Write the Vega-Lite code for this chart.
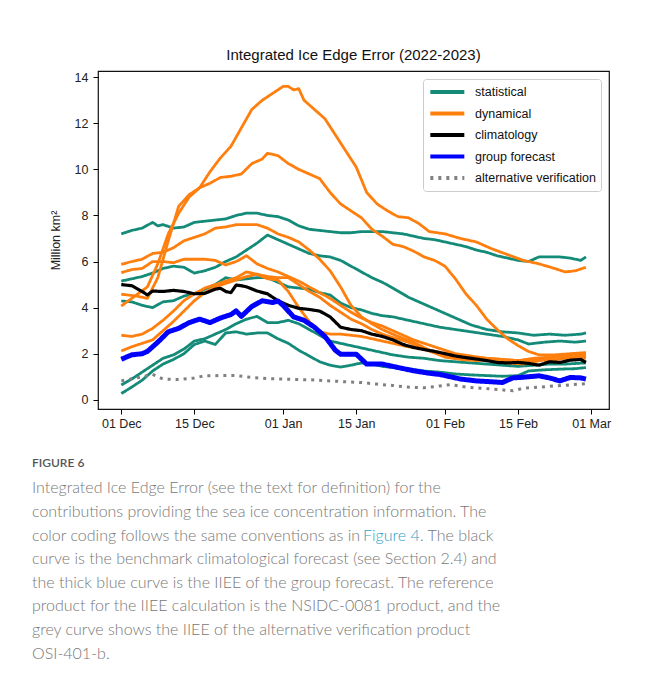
{
  "$schema": "https://vega.github.io/schema/vega-lite/v6.json",
  "background": "white",
  "padding": {"left": 32, "top": 47, "right": 0, "bottom": 0},
  "spacing": 22,
  "config": {
    "view": {"stroke": null},
    "axis": {
      "domain": false, "grid": false, "ticks": true, "tickColor": "#000", "tickSize": 5, "tickWidth": 1,
      "labelFont": "Liberation Sans", "labelFontSize": 12.5, "labelColor": "#222",
      "titleFont": "Liberation Sans", "titleFontSize": 12.5, "titleFontWeight": "normal", "titleColor": "#222"
    }
  },
  "vconcat": [
    {
      "width": 511,
      "height": 338,
      "view": {"stroke": "#111", "strokeWidth": 1.2},
      "title": {"text": "Integrated Ice Edge Error (2022-2023)", "font": "Liberation Sans", "fontSize": 15, "fontWeight": "normal", "color": "#111", "offset": -7, "baseline": "bottom"},
      "data": {"values": [
        {"s":"t1","g":"statistical","d":"2022-12-01","v":7.2},{"s":"t1","g":"statistical","d":"2022-12-03","v":7.35},{"s":"t1","g":"statistical","d":"2022-12-05","v":7.45},{"s":"t1","g":"statistical","d":"2022-12-07","v":7.7},{"s":"t1","g":"statistical","d":"2022-12-08","v":7.55},{"s":"t1","g":"statistical","d":"2022-12-09","v":7.6},{"s":"t1","g":"statistical","d":"2022-12-11","v":7.45},{"s":"t1","g":"statistical","d":"2022-12-13","v":7.5},{"s":"t1","g":"statistical","d":"2022-12-15","v":7.7},{"s":"t1","g":"statistical","d":"2022-12-17","v":7.75},{"s":"t1","g":"statistical","d":"2022-12-19","v":7.8},{"s":"t1","g":"statistical","d":"2022-12-21","v":7.85},{"s":"t1","g":"statistical","d":"2022-12-23","v":8.0},{"s":"t1","g":"statistical","d":"2022-12-25","v":8.1},{"s":"t1","g":"statistical","d":"2022-12-27","v":8.1},{"s":"t1","g":"statistical","d":"2022-12-29","v":8.0},{"s":"t1","g":"statistical","d":"2022-12-31","v":7.95},{"s":"t1","g":"statistical","d":"2023-01-02","v":7.8},{"s":"t1","g":"statistical","d":"2023-01-04","v":7.55},{"s":"t1","g":"statistical","d":"2023-01-06","v":7.4},{"s":"t1","g":"statistical","d":"2023-01-08","v":7.35},{"s":"t1","g":"statistical","d":"2023-01-10","v":7.3},{"s":"t1","g":"statistical","d":"2023-01-12","v":7.25},{"s":"t1","g":"statistical","d":"2023-01-14","v":7.25},{"s":"t1","g":"statistical","d":"2023-01-16","v":7.3},{"s":"t1","g":"statistical","d":"2023-01-18","v":7.3},{"s":"t1","g":"statistical","d":"2023-01-20","v":7.3},{"s":"t1","g":"statistical","d":"2023-01-22","v":7.25},{"s":"t1","g":"statistical","d":"2023-01-24","v":7.2},{"s":"t1","g":"statistical","d":"2023-01-26","v":7.1},{"s":"t1","g":"statistical","d":"2023-01-28","v":7.0},{"s":"t1","g":"statistical","d":"2023-01-30","v":6.95},{"s":"t1","g":"statistical","d":"2023-02-01","v":6.85},{"s":"t1","g":"statistical","d":"2023-02-03","v":6.75},{"s":"t1","g":"statistical","d":"2023-02-05","v":6.65},{"s":"t1","g":"statistical","d":"2023-02-07","v":6.5},{"s":"t1","g":"statistical","d":"2023-02-09","v":6.4},{"s":"t1","g":"statistical","d":"2023-02-11","v":6.25},{"s":"t1","g":"statistical","d":"2023-02-13","v":6.15},{"s":"t1","g":"statistical","d":"2023-02-15","v":6.05},{"s":"t1","g":"statistical","d":"2023-02-17","v":6.0},{"s":"t1","g":"statistical","d":"2023-02-19","v":6.2},{"s":"t1","g":"statistical","d":"2023-02-21","v":6.2},{"s":"t1","g":"statistical","d":"2023-02-23","v":6.2},{"s":"t1","g":"statistical","d":"2023-02-25","v":6.15},{"s":"t1","g":"statistical","d":"2023-02-27","v":6.05},{"s":"t1","g":"statistical","d":"2023-02-28","v":6.2},

        {"s":"t2","g":"statistical","d":"2022-12-01","v":5.15},{"s":"t2","g":"statistical","d":"2022-12-03","v":5.25},{"s":"t2","g":"statistical","d":"2022-12-05","v":5.35},{"s":"t2","g":"statistical","d":"2022-12-07","v":5.5},{"s":"t2","g":"statistical","d":"2022-12-09","v":5.7},{"s":"t2","g":"statistical","d":"2022-12-11","v":5.8},{"s":"t2","g":"statistical","d":"2022-12-13","v":5.75},{"s":"t2","g":"statistical","d":"2022-12-15","v":5.5},{"s":"t2","g":"statistical","d":"2022-12-17","v":5.6},{"s":"t2","g":"statistical","d":"2022-12-19","v":5.75},{"s":"t2","g":"statistical","d":"2022-12-21","v":6.0},{"s":"t2","g":"statistical","d":"2022-12-23","v":6.2},{"s":"t2","g":"statistical","d":"2022-12-25","v":6.5},{"s":"t2","g":"statistical","d":"2022-12-27","v":6.8},{"s":"t2","g":"statistical","d":"2022-12-29","v":7.15},{"s":"t2","g":"statistical","d":"2022-12-31","v":6.95},{"s":"t2","g":"statistical","d":"2023-01-02","v":6.75},{"s":"t2","g":"statistical","d":"2023-01-04","v":6.55},{"s":"t2","g":"statistical","d":"2023-01-06","v":6.35},{"s":"t2","g":"statistical","d":"2023-01-08","v":6.25},{"s":"t2","g":"statistical","d":"2023-01-10","v":6.2},{"s":"t2","g":"statistical","d":"2023-01-12","v":6.05},{"s":"t2","g":"statistical","d":"2023-01-14","v":5.8},{"s":"t2","g":"statistical","d":"2023-01-16","v":5.55},{"s":"t2","g":"statistical","d":"2023-01-18","v":5.3},{"s":"t2","g":"statistical","d":"2023-01-20","v":5.1},{"s":"t2","g":"statistical","d":"2023-01-22","v":4.85},{"s":"t2","g":"statistical","d":"2023-01-25","v":4.45},{"s":"t2","g":"statistical","d":"2023-01-28","v":4.15},{"s":"t2","g":"statistical","d":"2023-01-31","v":3.85},{"s":"t2","g":"statistical","d":"2023-02-03","v":3.55},{"s":"t2","g":"statistical","d":"2023-02-06","v":3.25},{"s":"t2","g":"statistical","d":"2023-02-09","v":3.05},{"s":"t2","g":"statistical","d":"2023-02-12","v":2.95},{"s":"t2","g":"statistical","d":"2023-02-15","v":2.9},{"s":"t2","g":"statistical","d":"2023-02-18","v":2.8},{"s":"t2","g":"statistical","d":"2023-02-21","v":2.85},{"s":"t2","g":"statistical","d":"2023-02-24","v":2.8},{"s":"t2","g":"statistical","d":"2023-02-27","v":2.85},{"s":"t2","g":"statistical","d":"2023-02-28","v":2.9},

        {"s":"t3","g":"statistical","d":"2022-12-01","v":4.29},{"s":"t3","g":"statistical","d":"2022-12-03","v":4.25},{"s":"t3","g":"statistical","d":"2022-12-05","v":4.1},{"s":"t3","g":"statistical","d":"2022-12-07","v":4.0},{"s":"t3","g":"statistical","d":"2022-12-09","v":4.25},{"s":"t3","g":"statistical","d":"2022-12-11","v":4.3},{"s":"t3","g":"statistical","d":"2022-12-13","v":4.5},{"s":"t3","g":"statistical","d":"2022-12-15","v":4.6},{"s":"t3","g":"statistical","d":"2022-12-17","v":4.8},{"s":"t3","g":"statistical","d":"2022-12-19","v":5.0},{"s":"t3","g":"statistical","d":"2022-12-21","v":5.3},{"s":"t3","g":"statistical","d":"2022-12-23","v":5.2},{"s":"t3","g":"statistical","d":"2022-12-25","v":5.25},{"s":"t3","g":"statistical","d":"2022-12-27","v":5.3},{"s":"t3","g":"statistical","d":"2022-12-29","v":5.3},{"s":"t3","g":"statistical","d":"2022-12-31","v":5.1},{"s":"t3","g":"statistical","d":"2023-01-02","v":4.9},{"s":"t3","g":"statistical","d":"2023-01-04","v":4.85},{"s":"t3","g":"statistical","d":"2023-01-06","v":4.8},{"s":"t3","g":"statistical","d":"2023-01-08","v":4.65},{"s":"t3","g":"statistical","d":"2023-01-10","v":4.55},{"s":"t3","g":"statistical","d":"2023-01-12","v":4.2},{"s":"t3","g":"statistical","d":"2023-01-14","v":4.0},{"s":"t3","g":"statistical","d":"2023-01-16","v":3.9},{"s":"t3","g":"statistical","d":"2023-01-18","v":3.75},{"s":"t3","g":"statistical","d":"2023-01-20","v":3.65},{"s":"t3","g":"statistical","d":"2023-01-22","v":3.6},{"s":"t3","g":"statistical","d":"2023-01-25","v":3.45},{"s":"t3","g":"statistical","d":"2023-01-28","v":3.3},{"s":"t3","g":"statistical","d":"2023-01-31","v":3.15},{"s":"t3","g":"statistical","d":"2023-02-03","v":3.05},{"s":"t3","g":"statistical","d":"2023-02-06","v":2.95},{"s":"t3","g":"statistical","d":"2023-02-09","v":2.85},{"s":"t3","g":"statistical","d":"2023-02-12","v":2.75},{"s":"t3","g":"statistical","d":"2023-02-15","v":2.6},{"s":"t3","g":"statistical","d":"2023-02-17","v":2.42},{"s":"t3","g":"statistical","d":"2023-02-20","v":2.5},{"s":"t3","g":"statistical","d":"2023-02-23","v":2.55},{"s":"t3","g":"statistical","d":"2023-02-26","v":2.5},{"s":"t3","g":"statistical","d":"2023-02-28","v":2.55},

        {"s":"t4","g":"statistical","d":"2022-12-01","v":0.64},{"s":"t4","g":"statistical","d":"2022-12-03","v":0.9},{"s":"t4","g":"statistical","d":"2022-12-05","v":1.2},{"s":"t4","g":"statistical","d":"2022-12-07","v":1.5},{"s":"t4","g":"statistical","d":"2022-12-09","v":1.8},{"s":"t4","g":"statistical","d":"2022-12-11","v":1.95},{"s":"t4","g":"statistical","d":"2022-12-13","v":2.2},{"s":"t4","g":"statistical","d":"2022-12-15","v":2.55},{"s":"t4","g":"statistical","d":"2022-12-17","v":2.65},{"s":"t4","g":"statistical","d":"2022-12-19","v":2.85},{"s":"t4","g":"statistical","d":"2022-12-21","v":3.05},{"s":"t4","g":"statistical","d":"2022-12-23","v":3.3},{"s":"t4","g":"statistical","d":"2022-12-25","v":3.5},{"s":"t4","g":"statistical","d":"2022-12-27","v":3.62},{"s":"t4","g":"statistical","d":"2022-12-29","v":3.35},{"s":"t4","g":"statistical","d":"2022-12-31","v":3.35},{"s":"t4","g":"statistical","d":"2023-01-02","v":3.45},{"s":"t4","g":"statistical","d":"2023-01-04","v":3.3},{"s":"t4","g":"statistical","d":"2023-01-06","v":3.05},{"s":"t4","g":"statistical","d":"2023-01-08","v":2.8},{"s":"t4","g":"statistical","d":"2023-01-10","v":2.55},{"s":"t4","g":"statistical","d":"2023-01-12","v":2.45},{"s":"t4","g":"statistical","d":"2023-01-14","v":2.35},{"s":"t4","g":"statistical","d":"2023-01-16","v":2.25},{"s":"t4","g":"statistical","d":"2023-01-18","v":2.15},{"s":"t4","g":"statistical","d":"2023-01-20","v":2.05},{"s":"t4","g":"statistical","d":"2023-01-22","v":1.95},{"s":"t4","g":"statistical","d":"2023-01-25","v":1.85},{"s":"t4","g":"statistical","d":"2023-01-28","v":1.8},{"s":"t4","g":"statistical","d":"2023-01-31","v":1.7},{"s":"t4","g":"statistical","d":"2023-02-03","v":1.65},{"s":"t4","g":"statistical","d":"2023-02-06","v":1.6},{"s":"t4","g":"statistical","d":"2023-02-09","v":1.55},{"s":"t4","g":"statistical","d":"2023-02-12","v":1.5},{"s":"t4","g":"statistical","d":"2023-02-15","v":1.45},{"s":"t4","g":"statistical","d":"2023-02-18","v":1.5},{"s":"t4","g":"statistical","d":"2023-02-21","v":1.55},{"s":"t4","g":"statistical","d":"2023-02-24","v":1.55},{"s":"t4","g":"statistical","d":"2023-02-28","v":1.6},

        {"s":"t5","g":"statistical","d":"2022-12-01","v":0.27},{"s":"t5","g":"statistical","d":"2022-12-03","v":0.55},{"s":"t5","g":"statistical","d":"2022-12-05","v":0.85},{"s":"t5","g":"statistical","d":"2022-12-07","v":1.25},{"s":"t5","g":"statistical","d":"2022-12-09","v":1.55},{"s":"t5","g":"statistical","d":"2022-12-11","v":1.75},{"s":"t5","g":"statistical","d":"2022-12-13","v":2.0},{"s":"t5","g":"statistical","d":"2022-12-15","v":2.4},{"s":"t5","g":"statistical","d":"2022-12-17","v":2.55},{"s":"t5","g":"statistical","d":"2022-12-19","v":2.4},{"s":"t5","g":"statistical","d":"2022-12-21","v":2.9},{"s":"t5","g":"statistical","d":"2022-12-23","v":2.95},{"s":"t5","g":"statistical","d":"2022-12-25","v":2.85},{"s":"t5","g":"statistical","d":"2022-12-27","v":2.9},{"s":"t5","g":"statistical","d":"2022-12-29","v":2.9},{"s":"t5","g":"statistical","d":"2022-12-31","v":2.65},{"s":"t5","g":"statistical","d":"2023-01-02","v":2.45},{"s":"t5","g":"statistical","d":"2023-01-04","v":2.15},{"s":"t5","g":"statistical","d":"2023-01-06","v":1.9},{"s":"t5","g":"statistical","d":"2023-01-08","v":1.65},{"s":"t5","g":"statistical","d":"2023-01-10","v":1.5},{"s":"t5","g":"statistical","d":"2023-01-12","v":1.42},{"s":"t5","g":"statistical","d":"2023-01-14","v":1.5},{"s":"t5","g":"statistical","d":"2023-01-16","v":1.6},{"s":"t5","g":"statistical","d":"2023-01-18","v":1.55},{"s":"t5","g":"statistical","d":"2023-01-20","v":1.45},{"s":"t5","g":"statistical","d":"2023-01-22","v":1.4},{"s":"t5","g":"statistical","d":"2023-01-25","v":1.35},{"s":"t5","g":"statistical","d":"2023-01-28","v":1.25},{"s":"t5","g":"statistical","d":"2023-01-31","v":1.2},{"s":"t5","g":"statistical","d":"2023-02-03","v":1.12},{"s":"t5","g":"statistical","d":"2023-02-06","v":1.08},{"s":"t5","g":"statistical","d":"2023-02-09","v":1.05},{"s":"t5","g":"statistical","d":"2023-02-12","v":1.02},{"s":"t5","g":"statistical","d":"2023-02-15","v":1.05},{"s":"t5","g":"statistical","d":"2023-02-17","v":1.25},{"s":"t5","g":"statistical","d":"2023-02-20","v":1.3},{"s":"t5","g":"statistical","d":"2023-02-23","v":1.33},{"s":"t5","g":"statistical","d":"2023-02-26","v":1.35},{"s":"t5","g":"statistical","d":"2023-02-28","v":1.4},

        {"s":"o1","g":"dynamical","d":"2022-12-01","v":4.07},{"s":"o1","g":"dynamical","d":"2022-12-03","v":4.4},{"s":"o1","g":"dynamical","d":"2022-12-06","v":4.9},{"s":"o1","g":"dynamical","d":"2022-12-08","v":5.9},{"s":"o1","g":"dynamical","d":"2022-12-10","v":7.2},{"s":"o1","g":"dynamical","d":"2022-12-12","v":8.1},{"s":"o1","g":"dynamical","d":"2022-12-14","v":8.8},{"s":"o1","g":"dynamical","d":"2022-12-16","v":9.2},{"s":"o1","g":"dynamical","d":"2022-12-18","v":9.9},{"s":"o1","g":"dynamical","d":"2022-12-20","v":10.5},{"s":"o1","g":"dynamical","d":"2022-12-22","v":11.0},{"s":"o1","g":"dynamical","d":"2022-12-24","v":11.8},{"s":"o1","g":"dynamical","d":"2022-12-26","v":12.6},{"s":"o1","g":"dynamical","d":"2022-12-28","v":13.0},{"s":"o1","g":"dynamical","d":"2022-12-30","v":13.3},{"s":"o1","g":"dynamical","d":"2023-01-01","v":13.6},{"s":"o1","g":"dynamical","d":"2023-01-02","v":13.6},{"s":"o1","g":"dynamical","d":"2023-01-03","v":13.45},{"s":"o1","g":"dynamical","d":"2023-01-04","v":13.5},{"s":"o1","g":"dynamical","d":"2023-01-05","v":13.0},{"s":"o1","g":"dynamical","d":"2023-01-07","v":12.6},{"s":"o1","g":"dynamical","d":"2023-01-09","v":12.2},{"s":"o1","g":"dynamical","d":"2023-01-11","v":11.5},{"s":"o1","g":"dynamical","d":"2023-01-13","v":10.8},{"s":"o1","g":"dynamical","d":"2023-01-15","v":10.1},{"s":"o1","g":"dynamical","d":"2023-01-17","v":9.0},{"s":"o1","g":"dynamical","d":"2023-01-19","v":8.5},{"s":"o1","g":"dynamical","d":"2023-01-21","v":8.2},{"s":"o1","g":"dynamical","d":"2023-01-23","v":7.95},{"s":"o1","g":"dynamical","d":"2023-01-25","v":7.9},{"s":"o1","g":"dynamical","d":"2023-01-27","v":7.65},{"s":"o1","g":"dynamical","d":"2023-01-29","v":7.3},{"s":"o1","g":"dynamical","d":"2023-02-01","v":7.2},{"s":"o1","g":"dynamical","d":"2023-02-04","v":7.0},{"s":"o1","g":"dynamical","d":"2023-02-07","v":6.85},{"s":"o1","g":"dynamical","d":"2023-02-10","v":6.55},{"s":"o1","g":"dynamical","d":"2023-02-13","v":6.3},{"s":"o1","g":"dynamical","d":"2023-02-16","v":6.05},{"s":"o1","g":"dynamical","d":"2023-02-19","v":5.9},{"s":"o1","g":"dynamical","d":"2023-02-22","v":5.7},{"s":"o1","g":"dynamical","d":"2023-02-24","v":5.55},{"s":"o1","g":"dynamical","d":"2023-02-26","v":5.6},{"s":"o1","g":"dynamical","d":"2023-02-28","v":5.75},

        {"s":"o2","g":"dynamical","d":"2022-12-01","v":4.58},{"s":"o2","g":"dynamical","d":"2022-12-04","v":4.5},{"s":"o2","g":"dynamical","d":"2022-12-06","v":4.4},{"s":"o2","g":"dynamical","d":"2022-12-08","v":5.3},{"s":"o2","g":"dynamical","d":"2022-12-10","v":6.9},{"s":"o2","g":"dynamical","d":"2022-12-12","v":8.4},{"s":"o2","g":"dynamical","d":"2022-12-14","v":8.9},{"s":"o2","g":"dynamical","d":"2022-12-16","v":9.2},{"s":"o2","g":"dynamical","d":"2022-12-18","v":9.4},{"s":"o2","g":"dynamical","d":"2022-12-20","v":9.65},{"s":"o2","g":"dynamical","d":"2022-12-22","v":9.7},{"s":"o2","g":"dynamical","d":"2022-12-24","v":9.8},{"s":"o2","g":"dynamical","d":"2022-12-26","v":10.25},{"s":"o2","g":"dynamical","d":"2022-12-28","v":10.45},{"s":"o2","g":"dynamical","d":"2022-12-29","v":10.7},{"s":"o2","g":"dynamical","d":"2022-12-31","v":10.6},{"s":"o2","g":"dynamical","d":"2023-01-02","v":10.25},{"s":"o2","g":"dynamical","d":"2023-01-04","v":10.0},{"s":"o2","g":"dynamical","d":"2023-01-06","v":9.8},{"s":"o2","g":"dynamical","d":"2023-01-08","v":9.6},{"s":"o2","g":"dynamical","d":"2023-01-10","v":9.0},{"s":"o2","g":"dynamical","d":"2023-01-12","v":8.5},{"s":"o2","g":"dynamical","d":"2023-01-14","v":8.2},{"s":"o2","g":"dynamical","d":"2023-01-16","v":7.9},{"s":"o2","g":"dynamical","d":"2023-01-18","v":7.4},{"s":"o2","g":"dynamical","d":"2023-01-20","v":7.1},{"s":"o2","g":"dynamical","d":"2023-01-22","v":6.75},{"s":"o2","g":"dynamical","d":"2023-01-24","v":6.65},{"s":"o2","g":"dynamical","d":"2023-01-26","v":6.45},{"s":"o2","g":"dynamical","d":"2023-01-28","v":6.2},{"s":"o2","g":"dynamical","d":"2023-01-30","v":6.05},{"s":"o2","g":"dynamical","d":"2023-02-01","v":5.8},{"s":"o2","g":"dynamical","d":"2023-02-03","v":5.25},{"s":"o2","g":"dynamical","d":"2023-02-05","v":4.6},{"s":"o2","g":"dynamical","d":"2023-02-07","v":4.1},{"s":"o2","g":"dynamical","d":"2023-02-09","v":3.5},{"s":"o2","g":"dynamical","d":"2023-02-11","v":3.05},{"s":"o2","g":"dynamical","d":"2023-02-13","v":2.65},{"s":"o2","g":"dynamical","d":"2023-02-15","v":2.35},{"s":"o2","g":"dynamical","d":"2023-02-17","v":2.1},{"s":"o2","g":"dynamical","d":"2023-02-19","v":1.95},{"s":"o2","g":"dynamical","d":"2023-02-22","v":1.95},{"s":"o2","g":"dynamical","d":"2023-02-25","v":2.0},{"s":"o2","g":"dynamical","d":"2023-02-28","v":2.05},

        {"s":"o3","g":"dynamical","d":"2022-12-01","v":5.88},{"s":"o3","g":"dynamical","d":"2022-12-03","v":6.0},{"s":"o3","g":"dynamical","d":"2022-12-05","v":6.1},{"s":"o3","g":"dynamical","d":"2022-12-07","v":6.35},{"s":"o3","g":"dynamical","d":"2022-12-09","v":6.4},{"s":"o3","g":"dynamical","d":"2022-12-11","v":6.6},{"s":"o3","g":"dynamical","d":"2022-12-13","v":6.9},{"s":"o3","g":"dynamical","d":"2022-12-15","v":7.05},{"s":"o3","g":"dynamical","d":"2022-12-17","v":7.2},{"s":"o3","g":"dynamical","d":"2022-12-19","v":7.45},{"s":"o3","g":"dynamical","d":"2022-12-21","v":7.5},{"s":"o3","g":"dynamical","d":"2022-12-23","v":7.6},{"s":"o3","g":"dynamical","d":"2022-12-25","v":7.6},{"s":"o3","g":"dynamical","d":"2022-12-27","v":7.6},{"s":"o3","g":"dynamical","d":"2022-12-29","v":7.45},{"s":"o3","g":"dynamical","d":"2022-12-31","v":7.2},{"s":"o3","g":"dynamical","d":"2023-01-02","v":7.05},{"s":"o3","g":"dynamical","d":"2023-01-04","v":6.85},{"s":"o3","g":"dynamical","d":"2023-01-06","v":6.5},{"s":"o3","g":"dynamical","d":"2023-01-08","v":6.1},{"s":"o3","g":"dynamical","d":"2023-01-10","v":5.6},{"s":"o3","g":"dynamical","d":"2023-01-12","v":4.9},{"s":"o3","g":"dynamical","d":"2023-01-14","v":4.1},{"s":"o3","g":"dynamical","d":"2023-01-16","v":3.6},{"s":"o3","g":"dynamical","d":"2023-01-18","v":3.3},{"s":"o3","g":"dynamical","d":"2023-01-20","v":3.05},{"s":"o3","g":"dynamical","d":"2023-01-23","v":2.75},{"s":"o3","g":"dynamical","d":"2023-01-26","v":2.5},{"s":"o3","g":"dynamical","d":"2023-01-29","v":2.15},{"s":"o3","g":"dynamical","d":"2023-02-01","v":1.85},{"s":"o3","g":"dynamical","d":"2023-02-04","v":1.75},{"s":"o3","g":"dynamical","d":"2023-02-07","v":1.7},{"s":"o3","g":"dynamical","d":"2023-02-10","v":1.75},{"s":"o3","g":"dynamical","d":"2023-02-13","v":1.6},{"s":"o3","g":"dynamical","d":"2023-02-16","v":1.55},{"s":"o3","g":"dynamical","d":"2023-02-19","v":1.7},{"s":"o3","g":"dynamical","d":"2023-02-22","v":1.9},{"s":"o3","g":"dynamical","d":"2023-02-25","v":1.85},{"s":"o3","g":"dynamical","d":"2023-02-28","v":1.95},

        {"s":"o4","g":"dynamical","d":"2022-12-01","v":5.52},{"s":"o4","g":"dynamical","d":"2022-12-03","v":5.65},{"s":"o4","g":"dynamical","d":"2022-12-05","v":5.7},{"s":"o4","g":"dynamical","d":"2022-12-07","v":6.0},{"s":"o4","g":"dynamical","d":"2022-12-09","v":6.0},{"s":"o4","g":"dynamical","d":"2022-12-11","v":5.95},{"s":"o4","g":"dynamical","d":"2022-12-13","v":6.1},{"s":"o4","g":"dynamical","d":"2022-12-15","v":6.1},{"s":"o4","g":"dynamical","d":"2022-12-17","v":6.1},{"s":"o4","g":"dynamical","d":"2022-12-19","v":6.05},{"s":"o4","g":"dynamical","d":"2022-12-21","v":5.85},{"s":"o4","g":"dynamical","d":"2022-12-23","v":6.0},{"s":"o4","g":"dynamical","d":"2022-12-25","v":6.25},{"s":"o4","g":"dynamical","d":"2022-12-27","v":5.9},{"s":"o4","g":"dynamical","d":"2022-12-29","v":5.7},{"s":"o4","g":"dynamical","d":"2022-12-31","v":5.55},{"s":"o4","g":"dynamical","d":"2023-01-02","v":5.35},{"s":"o4","g":"dynamical","d":"2023-01-04","v":5.15},{"s":"o4","g":"dynamical","d":"2023-01-06","v":4.9},{"s":"o4","g":"dynamical","d":"2023-01-08","v":4.65},{"s":"o4","g":"dynamical","d":"2023-01-10","v":4.4},{"s":"o4","g":"dynamical","d":"2023-01-12","v":4.1},{"s":"o4","g":"dynamical","d":"2023-01-14","v":3.8},{"s":"o4","g":"dynamical","d":"2023-01-16","v":3.55},{"s":"o4","g":"dynamical","d":"2023-01-18","v":3.35},{"s":"o4","g":"dynamical","d":"2023-01-20","v":3.2},{"s":"o4","g":"dynamical","d":"2023-01-22","v":3.0},{"s":"o4","g":"dynamical","d":"2023-01-24","v":2.8},{"s":"o4","g":"dynamical","d":"2023-01-26","v":2.6},{"s":"o4","g":"dynamical","d":"2023-01-28","v":2.45},{"s":"o4","g":"dynamical","d":"2023-01-30","v":2.3},{"s":"o4","g":"dynamical","d":"2023-02-01","v":2.15},{"s":"o4","g":"dynamical","d":"2023-02-03","v":2.0},{"s":"o4","g":"dynamical","d":"2023-02-06","v":1.9},{"s":"o4","g":"dynamical","d":"2023-02-09","v":1.8},{"s":"o4","g":"dynamical","d":"2023-02-12","v":1.75},{"s":"o4","g":"dynamical","d":"2023-02-15","v":1.7},{"s":"o4","g":"dynamical","d":"2023-02-18","v":1.75},{"s":"o4","g":"dynamical","d":"2023-02-21","v":1.7},{"s":"o4","g":"dynamical","d":"2023-02-24","v":1.8},{"s":"o4","g":"dynamical","d":"2023-02-28","v":1.85},

        {"s":"o5","g":"dynamical","d":"2022-12-01","v":2.8},{"s":"o5","g":"dynamical","d":"2022-12-03","v":2.75},{"s":"o5","g":"dynamical","d":"2022-12-05","v":2.85},{"s":"o5","g":"dynamical","d":"2022-12-07","v":3.1},{"s":"o5","g":"dynamical","d":"2022-12-09","v":3.45},{"s":"o5","g":"dynamical","d":"2022-12-11","v":3.85},{"s":"o5","g":"dynamical","d":"2022-12-13","v":4.3},{"s":"o5","g":"dynamical","d":"2022-12-15","v":4.6},{"s":"o5","g":"dynamical","d":"2022-12-17","v":4.85},{"s":"o5","g":"dynamical","d":"2022-12-19","v":5.0},{"s":"o5","g":"dynamical","d":"2022-12-21","v":5.15},{"s":"o5","g":"dynamical","d":"2022-12-23","v":5.3},{"s":"o5","g":"dynamical","d":"2022-12-25","v":5.55},{"s":"o5","g":"dynamical","d":"2022-12-27","v":5.45},{"s":"o5","g":"dynamical","d":"2022-12-29","v":5.35},{"s":"o5","g":"dynamical","d":"2022-12-31","v":5.3},{"s":"o5","g":"dynamical","d":"2023-01-02","v":5.3},{"s":"o5","g":"dynamical","d":"2023-01-04","v":5.0},{"s":"o5","g":"dynamical","d":"2023-01-06","v":4.7},{"s":"o5","g":"dynamical","d":"2023-01-08","v":4.45},{"s":"o5","g":"dynamical","d":"2023-01-10","v":4.1},{"s":"o5","g":"dynamical","d":"2023-01-12","v":3.8},{"s":"o5","g":"dynamical","d":"2023-01-14","v":3.5},{"s":"o5","g":"dynamical","d":"2023-01-16","v":3.3},{"s":"o5","g":"dynamical","d":"2023-01-18","v":3.05},{"s":"o5","g":"dynamical","d":"2023-01-20","v":2.85},{"s":"o5","g":"dynamical","d":"2023-01-22","v":2.7},{"s":"o5","g":"dynamical","d":"2023-01-25","v":2.5},{"s":"o5","g":"dynamical","d":"2023-01-28","v":2.2},{"s":"o5","g":"dynamical","d":"2023-01-31","v":1.95},{"s":"o5","g":"dynamical","d":"2023-02-03","v":1.85},{"s":"o5","g":"dynamical","d":"2023-02-06","v":1.8},{"s":"o5","g":"dynamical","d":"2023-02-09","v":1.7},{"s":"o5","g":"dynamical","d":"2023-02-12","v":1.65},{"s":"o5","g":"dynamical","d":"2023-02-15","v":1.6},{"s":"o5","g":"dynamical","d":"2023-02-18","v":1.65},{"s":"o5","g":"dynamical","d":"2023-02-21","v":1.8},{"s":"o5","g":"dynamical","d":"2023-02-24","v":1.9},{"s":"o5","g":"dynamical","d":"2023-02-28","v":1.8},

        {"s":"o6","g":"dynamical","d":"2022-12-01","v":2.12},{"s":"o6","g":"dynamical","d":"2022-12-03","v":2.3},{"s":"o6","g":"dynamical","d":"2022-12-05","v":2.45},{"s":"o6","g":"dynamical","d":"2022-12-07","v":2.6},{"s":"o6","g":"dynamical","d":"2022-12-09","v":3.0},{"s":"o6","g":"dynamical","d":"2022-12-11","v":3.4},{"s":"o6","g":"dynamical","d":"2022-12-13","v":3.85},{"s":"o6","g":"dynamical","d":"2022-12-15","v":4.3},{"s":"o6","g":"dynamical","d":"2022-12-17","v":4.65},{"s":"o6","g":"dynamical","d":"2022-12-19","v":4.9},{"s":"o6","g":"dynamical","d":"2022-12-21","v":5.05},{"s":"o6","g":"dynamical","d":"2022-12-23","v":5.2},{"s":"o6","g":"dynamical","d":"2022-12-25","v":5.35},{"s":"o6","g":"dynamical","d":"2022-12-27","v":5.45},{"s":"o6","g":"dynamical","d":"2022-12-29","v":5.25},{"s":"o6","g":"dynamical","d":"2022-12-31","v":5.2},{"s":"o6","g":"dynamical","d":"2023-01-02","v":4.7},{"s":"o6","g":"dynamical","d":"2023-01-04","v":4.0},{"s":"o6","g":"dynamical","d":"2023-01-06","v":3.4},{"s":"o6","g":"dynamical","d":"2023-01-08","v":2.95},{"s":"o6","g":"dynamical","d":"2023-01-10","v":2.85},{"s":"o6","g":"dynamical","d":"2023-01-12","v":2.85},{"s":"o6","g":"dynamical","d":"2023-01-14","v":2.8},{"s":"o6","g":"dynamical","d":"2023-01-16","v":2.75},{"s":"o6","g":"dynamical","d":"2023-01-18","v":2.65},{"s":"o6","g":"dynamical","d":"2023-01-20","v":2.55},{"s":"o6","g":"dynamical","d":"2023-01-22","v":2.45},{"s":"o6","g":"dynamical","d":"2023-01-25","v":2.3},{"s":"o6","g":"dynamical","d":"2023-01-28","v":2.2},{"s":"o6","g":"dynamical","d":"2023-01-31","v":2.05},{"s":"o6","g":"dynamical","d":"2023-02-03","v":1.95},{"s":"o6","g":"dynamical","d":"2023-02-06","v":1.85},{"s":"o6","g":"dynamical","d":"2023-02-09","v":1.8},{"s":"o6","g":"dynamical","d":"2023-02-12","v":1.75},{"s":"o6","g":"dynamical","d":"2023-02-15","v":1.7},{"s":"o6","g":"dynamical","d":"2023-02-18","v":1.8},{"s":"o6","g":"dynamical","d":"2023-02-21","v":1.85},{"s":"o6","g":"dynamical","d":"2023-02-24","v":1.95},{"s":"o6","g":"dynamical","d":"2023-02-28","v":2.0},

        {"s":"c","g":"climatology","d":"2022-12-01","v":5.0},{"s":"c","g":"climatology","d":"2022-12-03","v":4.95},{"s":"c","g":"climatology","d":"2022-12-05","v":4.7},{"s":"c","g":"climatology","d":"2022-12-06","v":4.55},{"s":"c","g":"climatology","d":"2022-12-07","v":4.72},{"s":"c","g":"climatology","d":"2022-12-09","v":4.7},{"s":"c","g":"climatology","d":"2022-12-11","v":4.75},{"s":"c","g":"climatology","d":"2022-12-13","v":4.7},{"s":"c","g":"climatology","d":"2022-12-15","v":4.6},{"s":"c","g":"climatology","d":"2022-12-17","v":4.62},{"s":"c","g":"climatology","d":"2022-12-19","v":4.8},{"s":"c","g":"climatology","d":"2022-12-20","v":4.84},{"s":"c","g":"climatology","d":"2022-12-21","v":4.7},{"s":"c","g":"climatology","d":"2022-12-22","v":4.65},{"s":"c","g":"climatology","d":"2022-12-23","v":4.98},{"s":"c","g":"climatology","d":"2022-12-24","v":4.95},{"s":"c","g":"climatology","d":"2022-12-25","v":4.9},{"s":"c","g":"climatology","d":"2022-12-27","v":4.72},{"s":"c","g":"climatology","d":"2022-12-29","v":4.6},{"s":"c","g":"climatology","d":"2022-12-31","v":4.3},{"s":"c","g":"climatology","d":"2023-01-02","v":4.1},{"s":"c","g":"climatology","d":"2023-01-04","v":3.97},{"s":"c","g":"climatology","d":"2023-01-06","v":3.92},{"s":"c","g":"climatology","d":"2023-01-08","v":3.85},{"s":"c","g":"climatology","d":"2023-01-10","v":3.6},{"s":"c","g":"climatology","d":"2023-01-12","v":3.15},{"s":"c","g":"climatology","d":"2023-01-14","v":3.05},{"s":"c","g":"climatology","d":"2023-01-16","v":3.0},{"s":"c","g":"climatology","d":"2023-01-18","v":2.85},{"s":"c","g":"climatology","d":"2023-01-20","v":2.75},{"s":"c","g":"climatology","d":"2023-01-22","v":2.6},{"s":"c","g":"climatology","d":"2023-01-24","v":2.4},{"s":"c","g":"climatology","d":"2023-01-26","v":2.27},{"s":"c","g":"climatology","d":"2023-01-28","v":2.18},{"s":"c","g":"climatology","d":"2023-01-30","v":2.1},{"s":"c","g":"climatology","d":"2023-02-01","v":2.0},{"s":"c","g":"climatology","d":"2023-02-03","v":1.9},{"s":"c","g":"climatology","d":"2023-02-05","v":1.83},{"s":"c","g":"climatology","d":"2023-02-07","v":1.77},{"s":"c","g":"climatology","d":"2023-02-09","v":1.7},{"s":"c","g":"climatology","d":"2023-02-11","v":1.62},{"s":"c","g":"climatology","d":"2023-02-13","v":1.6},{"s":"c","g":"climatology","d":"2023-02-15","v":1.62},{"s":"c","g":"climatology","d":"2023-02-17","v":1.58},{"s":"c","g":"climatology","d":"2023-02-19","v":1.5},{"s":"c","g":"climatology","d":"2023-02-21","v":1.65},{"s":"c","g":"climatology","d":"2023-02-23","v":1.62},{"s":"c","g":"climatology","d":"2023-02-25","v":1.72},{"s":"c","g":"climatology","d":"2023-02-27","v":1.75},{"s":"c","g":"climatology","d":"2023-02-28","v":1.62},

        {"s":"gf","g":"group forecast","d":"2022-12-01","v":1.76},{"s":"gf","g":"group forecast","d":"2022-12-03","v":1.95},{"s":"gf","g":"group forecast","d":"2022-12-05","v":2.0},{"s":"gf","g":"group forecast","d":"2022-12-06","v":2.1},{"s":"gf","g":"group forecast","d":"2022-12-08","v":2.5},{"s":"gf","g":"group forecast","d":"2022-12-10","v":2.95},{"s":"gf","g":"group forecast","d":"2022-12-12","v":3.1},{"s":"gf","g":"group forecast","d":"2022-12-14","v":3.35},{"s":"gf","g":"group forecast","d":"2022-12-16","v":3.5},{"s":"gf","g":"group forecast","d":"2022-12-18","v":3.35},{"s":"gf","g":"group forecast","d":"2022-12-20","v":3.55},{"s":"gf","g":"group forecast","d":"2022-12-22","v":3.7},{"s":"gf","g":"group forecast","d":"2022-12-23","v":3.86},{"s":"gf","g":"group forecast","d":"2022-12-24","v":3.62},{"s":"gf","g":"group forecast","d":"2022-12-26","v":4.05},{"s":"gf","g":"group forecast","d":"2022-12-28","v":4.3},{"s":"gf","g":"group forecast","d":"2022-12-30","v":4.22},{"s":"gf","g":"group forecast","d":"2022-12-31","v":4.29},{"s":"gf","g":"group forecast","d":"2023-01-01","v":4.1},{"s":"gf","g":"group forecast","d":"2023-01-03","v":3.6},{"s":"gf","g":"group forecast","d":"2023-01-05","v":3.45},{"s":"gf","g":"group forecast","d":"2023-01-07","v":3.15},{"s":"gf","g":"group forecast","d":"2023-01-09","v":2.75},{"s":"gf","g":"group forecast","d":"2023-01-11","v":2.15},{"s":"gf","g":"group forecast","d":"2023-01-12","v":1.98},{"s":"gf","g":"group forecast","d":"2023-01-15","v":1.98},{"s":"gf","g":"group forecast","d":"2023-01-17","v":1.55},{"s":"gf","g":"group forecast","d":"2023-01-20","v":1.55},{"s":"gf","g":"group forecast","d":"2023-01-23","v":1.4},{"s":"gf","g":"group forecast","d":"2023-01-26","v":1.26},{"s":"gf","g":"group forecast","d":"2023-01-29","v":1.15},{"s":"gf","g":"group forecast","d":"2023-01-31","v":1.1},{"s":"gf","g":"group forecast","d":"2023-02-02","v":1.0},{"s":"gf","g":"group forecast","d":"2023-02-04","v":0.9},{"s":"gf","g":"group forecast","d":"2023-02-07","v":0.82},{"s":"gf","g":"group forecast","d":"2023-02-10","v":0.78},{"s":"gf","g":"group forecast","d":"2023-02-12","v":0.75},{"s":"gf","g":"group forecast","d":"2023-02-14","v":0.95},{"s":"gf","g":"group forecast","d":"2023-02-16","v":0.98},{"s":"gf","g":"group forecast","d":"2023-02-19","v":1.04},{"s":"gf","g":"group forecast","d":"2023-02-21","v":0.95},{"s":"gf","g":"group forecast","d":"2023-02-23","v":0.82},{"s":"gf","g":"group forecast","d":"2023-02-25","v":0.97},{"s":"gf","g":"group forecast","d":"2023-02-27","v":0.95},{"s":"gf","g":"group forecast","d":"2023-02-28","v":0.9},

        {"s":"av","g":"alternative verification","d":"2022-12-01","v":0.82},{"s":"av","g":"alternative verification","d":"2022-12-04","v":0.95},{"s":"av","g":"alternative verification","d":"2022-12-07","v":1.1},{"s":"av","g":"alternative verification","d":"2022-12-09","v":0.9},{"s":"av","g":"alternative verification","d":"2022-12-12","v":0.88},{"s":"av","g":"alternative verification","d":"2022-12-15","v":0.95},{"s":"av","g":"alternative verification","d":"2022-12-17","v":1.04},{"s":"av","g":"alternative verification","d":"2022-12-20","v":1.05},{"s":"av","g":"alternative verification","d":"2022-12-23","v":1.05},{"s":"av","g":"alternative verification","d":"2022-12-26","v":0.97},{"s":"av","g":"alternative verification","d":"2022-12-29","v":0.92},{"s":"av","g":"alternative verification","d":"2023-01-01","v":0.9},{"s":"av","g":"alternative verification","d":"2023-01-04","v":0.88},{"s":"av","g":"alternative verification","d":"2023-01-07","v":0.86},{"s":"av","g":"alternative verification","d":"2023-01-10","v":0.82},{"s":"av","g":"alternative verification","d":"2023-01-13","v":0.78},{"s":"av","g":"alternative verification","d":"2023-01-16","v":0.75},{"s":"av","g":"alternative verification","d":"2023-01-19","v":0.68},{"s":"av","g":"alternative verification","d":"2023-01-22","v":0.62},{"s":"av","g":"alternative verification","d":"2023-01-25","v":0.55},{"s":"av","g":"alternative verification","d":"2023-01-28","v":0.52},{"s":"av","g":"alternative verification","d":"2023-01-31","v":0.6},{"s":"av","g":"alternative verification","d":"2023-02-02","v":0.66},{"s":"av","g":"alternative verification","d":"2023-02-05","v":0.55},{"s":"av","g":"alternative verification","d":"2023-02-08","v":0.5},{"s":"av","g":"alternative verification","d":"2023-02-11","v":0.45},{"s":"av","g":"alternative verification","d":"2023-02-14","v":0.39},{"s":"av","g":"alternative verification","d":"2023-02-16","v":0.5},{"s":"av","g":"alternative verification","d":"2023-02-19","v":0.55},{"s":"av","g":"alternative verification","d":"2023-02-22","v":0.6},{"s":"av","g":"alternative verification","d":"2023-02-25","v":0.65},{"s":"av","g":"alternative verification","d":"2023-02-28","v":0.7}
      ]},
      "encoding": {
        "x": {
          "field": "d", "type": "temporal", "title": null,
          "scale": {"type": "utc", "domain": [{"year": 2022, "month": 11, "date": 26, "hours": 13, "utc": true}, {"year": 2023, "month": 3, "date": 4, "hours": 10, "utc": true}]},
          "axis": {
            "format": "%d %b", "labelPadding": 3, "labelFlush": false,
            "values": [
              {"year": 2022, "month": 12, "date": 1, "utc": true},
              {"year": 2022, "month": 12, "date": 15, "utc": true},
              {"year": 2023, "month": 1, "date": 1, "utc": true},
              {"year": 2023, "month": 1, "date": 15, "utc": true},
              {"year": 2023, "month": 2, "date": 1, "utc": true},
              {"year": 2023, "month": 2, "date": 15, "utc": true},
              {"year": 2023, "month": 3, "date": 1, "utc": true}
            ]
          }
        },
        "y": {
          "field": "v", "type": "quantitative",
          "scale": {"domain": [-0.4, 14.27], "nice": false, "zero": false},
          "axis": {"title": "Million km²", "values": [0, 2, 4, 6, 8, 10, 12, 14], "labelPadding": 5, "titlePadding": 12}
        },
        "color": {
          "field": "g", "type": "nominal",
          "scale": {
            "domain": ["statistical", "dynamical", "climatology", "group forecast", "alternative verification"],
            "range": ["#148a78", "#ff7f0e", "#000000", "#0000ff", "#808080"]
          },
          "legend": {
            "title": null, "orient": "top-right", "offset": 8, "symbolType": "M-1,0H5", "symbolSize": 128.4,
            "symbolStrokeWidth": 4, "labelFont": "Liberation Sans", "labelFontSize": 12.5, "labelColor": "#111",
            "labelOffset": 31, "fillColor": "white", "strokeColor": "#cccccc", "cornerRadius": 3, "padding": 5, "rowPadding": 5.5
          }
        },
        "strokeDash": {
          "field": "g", "type": "nominal",
          "scale": {
            "domain": ["statistical", "dynamical", "climatology", "group forecast", "alternative verification"],
            "range": [[1, 0], [1, 0], [1, 0], [1, 0], [3, 5]]
          },
          "legend": {
            "title": null, "orient": "top-right", "offset": 8, "symbolType": "M-1,0H5", "symbolSize": 128.4,
            "symbolStrokeWidth": 4, "labelFont": "Liberation Sans", "labelFontSize": 12.5, "labelColor": "#111",
            "labelOffset": 31, "fillColor": "white", "strokeColor": "#cccccc", "cornerRadius": 3, "padding": 5, "rowPadding": 5.5
          }
        },
        "detail": {"field": "s"}
      },
      "layer": [
        {"transform": [{"filter": "datum.g === 'statistical' || datum.g === 'dynamical'"}], "mark": {"type": "line", "strokeWidth": 2.8, "strokeJoin": "round"}},
        {"transform": [{"filter": "datum.g === 'climatology'"}], "mark": {"type": "line", "strokeWidth": 3.2, "strokeJoin": "round"}},
        {"transform": [{"filter": "datum.g === 'group forecast'"}], "mark": {"type": "line", "strokeWidth": 5, "strokeJoin": "round"}},
        {"transform": [{"filter": "datum.g === 'alternative verification'"}], "mark": {"type": "line", "strokeWidth": 3, "strokeCap": "butt"}}
      ]
    },
    {
      "width": 511,
      "height": {"step": 23.6},
      "view": {"stroke": null},
      "data": {"values": [
        {"n": 1, "k": "head", "txt": "FIGURE 6"},
        {"n": 2, "k": "body", "txt": "Integrated Ice Edge Error (see the text for definition) for the"},
        {"n": 3, "k": "body", "txt": "contributions providing the sea ice concentration information. The"},
        {"n": 4, "k": "body", "txt": "color coding follows the same conventions as in"},
        {"n": 4, "k": "link", "txt": "Figure 4"},
        {"n": 4, "k": "tail", "txt": ". The black"},
        {"n": 5, "k": "body", "txt": "curve is the benchmark climatological forecast (see Section 2.4) and"},
        {"n": 6, "k": "body", "txt": "the thick blue curve is the IIEE of the group forecast. The reference"},
        {"n": 7, "k": "body", "txt": "product for the IIEE calculation is the NSIDC-0081 product, and the"},
        {"n": 8, "k": "body", "txt": "grey curve shows the IIEE of the alternative verification product"},
        {"n": 9, "k": "body", "txt": "OSI-401-b."}
      ]},
      "encoding": {
        "y": {"field": "n", "type": "ordinal", "axis": null},
        "x": {"value": -66},
        "text": {"field": "txt"}
      },
      "layer": [
        {"transform": [{"filter": "datum.k === 'head'"}], "mark": {"type": "text", "align": "left", "baseline": "middle", "font": "Lato", "fontSize": 12, "fontWeight": 600, "color": "#555555", "dy": -2}},
        {"transform": [{"filter": "datum.k === 'body'"}], "mark": {"type": "text", "align": "left", "baseline": "middle", "font": "Lato", "fontSize": 16, "fontWeight": 300, "color": "#777777"}},
        {"transform": [{"filter": "datum.k === 'link'"}], "mark": {"type": "text", "align": "left", "baseline": "middle", "font": "Lato", "fontSize": 16, "fontWeight": 300, "color": "#2a9fc5", "dx": 331}},
        {"transform": [{"filter": "datum.k === 'tail'"}], "mark": {"type": "text", "align": "left", "baseline": "middle", "font": "Lato", "fontSize": 16, "fontWeight": 300, "color": "#777777", "dx": 388}}
      ]
    }
  ]
}
